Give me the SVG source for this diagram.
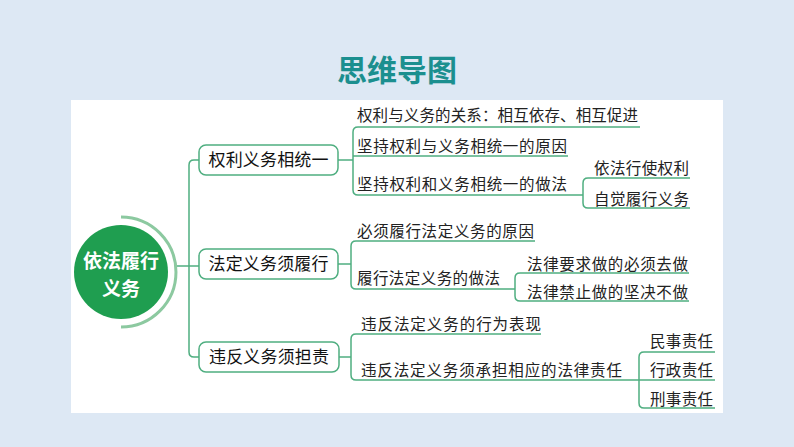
<svg xmlns="http://www.w3.org/2000/svg" width="794" height="447" viewBox="0 0 794 447">
<style>
.t{font-family:"Noto Sans CJK SC","Liberation Sans",sans-serif;font-size:15.5px;fill:#222}
.n{font-family:"Noto Sans CJK SC","Liberation Sans",sans-serif;font-size:17px;fill:#111;text-anchor:middle}
.c{font-family:"Noto Sans CJK SC","Liberation Sans",sans-serif;font-size:19px;font-weight:bold;fill:#fff;text-anchor:middle}
.box{fill:#fff;stroke:#4fae80;stroke-width:1.5}
.ln{fill:none;stroke:#4fae80;stroke-width:1.5}
</style>
<rect x="0" y="0" width="794" height="447" fill="#dde8f4"/>
<rect x="71" y="100" width="652" height="313" fill="#fff"/>
<text x="397" y="81" text-anchor="middle" font-family="'Noto Sans CJK SC','Liberation Sans',sans-serif" font-size="30" font-weight="bold" fill="#1b8f8f">思维导图</text>

<g id="connectors">
<path class="ln" d="M176 266 H199"/>
<path class="ln" d="M199 160 H194 Q189 160 189 165 V352 Q189 357 194 357 H199"/>
<path class="ln" d="M338 160 H353"/>
<path class="ln" d="M640 127 H358 Q353 127 353 132 V190 Q353 195 358 195 H583"/>
<path class="ln" d="M353 156 H568"/>
<path class="ln" d="M690 178 H588 Q583 178 583 183 V203 Q583 208 588 208 H690"/>
<path class="ln" d="M338 264 H351"/>
<path class="ln" d="M535 241 H356 Q351 241 351 246 V284 Q351 289 356 289 H515"/>
<path class="ln" d="M689 273 H520 Q515 273 515 278 V296 Q515 301 520 301 H689"/>
<path class="ln" d="M339 357 H351"/>
<path class="ln" d="M541 334 H356 Q351 334 351 339 V375 Q351 380 356 380 H639"/>
<path class="ln" d="M715 352 H644 Q639 352 639 357 V403 Q639 408 644 408 H715"/>
<path class="ln" d="M639 380 H715"/>
</g>

<g id="root">
<path d="M121 217 A55 55 0 0 1 121 327" fill="none" stroke="#8cc9a0" stroke-width="3"/>
<circle cx="121" cy="272" r="47" fill="#1f9e50"/>
<text class="c" x="121" y="268">依法履行</text>
<text class="c" x="121" y="296">义务</text>
</g>

<g id="n1">
<rect class="box" x="199" y="145" width="139" height="30" rx="7"/>
<text class="n" x="268.5" y="166" textLength="120">权利义务相统一</text>
</g>
<g id="n2">
<rect class="box" x="199" y="249" width="139" height="30" rx="7"/>
<text class="n" x="268.5" y="270" textLength="120">法定义务须履行</text>
</g>
<g id="n3">
<rect class="box" x="199" y="342" width="140" height="30" rx="7"/>
<text class="n" x="269" y="363" textLength="120">违反义务须担责</text>
</g>

<g id="n1a"><text class="t" x="357" y="121" textLength="281">权利与义务的关系：相互依存、相互促进</text></g>
<g id="n1b"><text class="t" x="357" y="152" textLength="210">坚持权利与义务相统一的原因</text></g>
<g id="n1c"><text class="t" x="357" y="190" textLength="210">坚持权利和义务相统一的做法</text></g>
<g id="n1c1"><text class="t" x="594" y="174" textLength="95">依法行使权利</text></g>
<g id="n1c2"><text class="t" x="594" y="205" textLength="95">自觉履行义务</text></g>

<g id="n2a"><text class="t" x="357" y="237" textLength="177">必须履行法定义务的原因</text></g>
<g id="n2b"><text class="t" x="357" y="284" textLength="143">履行法定义务的做法</text></g>
<g id="n2b1"><text class="t" x="527" y="270" textLength="161">法律要求做的必须去做</text></g>
<g id="n2b2"><text class="t" x="527" y="298" textLength="161">法律禁止做的坚决不做</text></g>

<g id="n3a"><text class="t" x="361" y="330" textLength="180">违反法定义务的行为表现</text></g>
<g id="n3b"><text class="t" x="361" y="376" textLength="261">违反法定义务须承担相应的法律责任</text></g>
<g id="n3b1"><text class="t" x="650" y="347" textLength="63">民事责任</text></g>
<g id="n3b2"><text class="t" x="650" y="376" textLength="63">行政责任</text></g>
<g id="n3b3"><text class="t" x="650" y="405" textLength="63">刑事责任</text></g>
</svg>
